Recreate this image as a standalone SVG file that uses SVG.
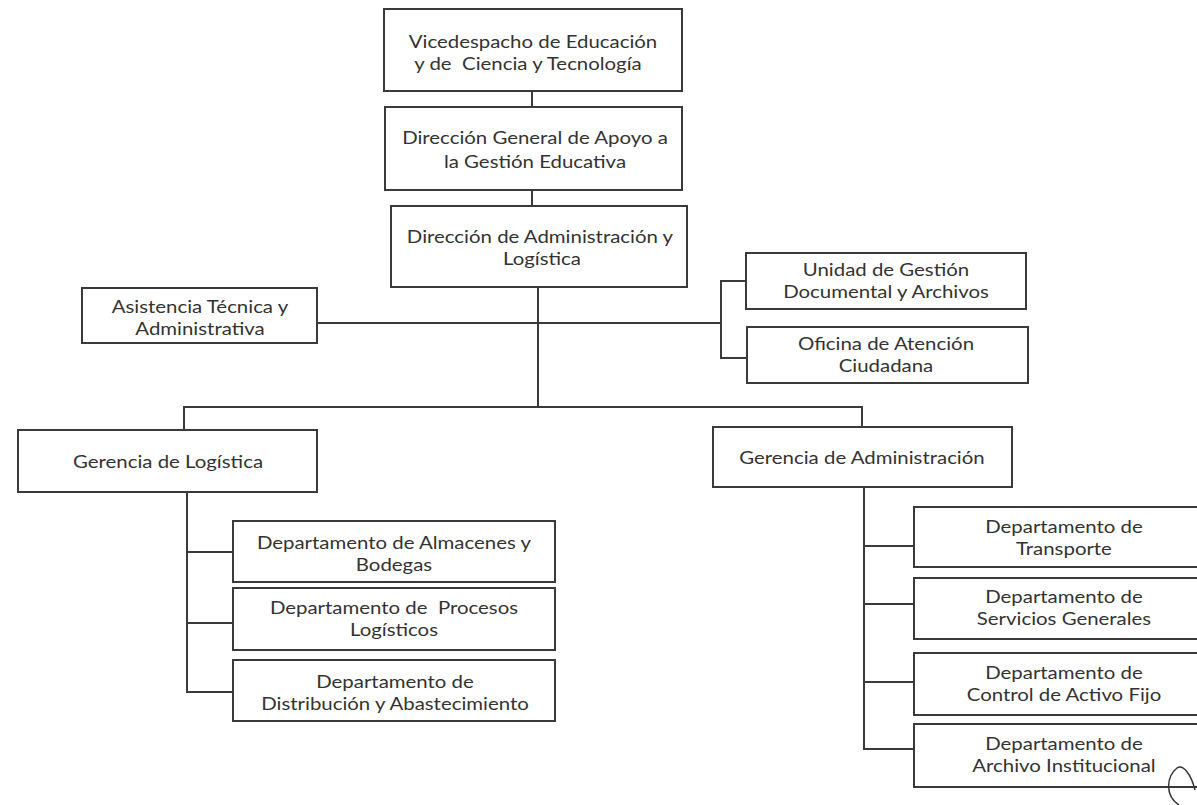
<svg xmlns="http://www.w3.org/2000/svg" width="1197" height="805" viewBox="0 0 1197 805">
<style>
.box{fill:#ffffff;stroke:#3a3a3a;stroke-width:2}
.lbl{font-family:Lato,"Open Sans","Liberation Sans",sans-serif;font-size:17px;fill:#333333;text-anchor:middle;white-space:pre;transform-box:fill-box;transform-origin:center;transform:scaleX(1.2)}
.conn{fill:none;stroke:#3a3a3a;stroke-width:2}
</style>
<rect x="0" y="0" width="1197" height="805" fill="#ffffff"/>
<g id="connectors" class="conn">
<path d="M532 91V107"/>
<path d="M532 190V206"/>
<path d="M538 287V407"/>
<path d="M317 323H721"/>
<path d="M746 281H721V358H747"/>
<path d="M184 430V407H862V427"/>
<path d="M187 492V692H233"/>
<path d="M187 552H233"/>
<path d="M187 623H233"/>
<path d="M864 487V749H914"/>
<path d="M864 546H914"/>
<path d="M864 604H914"/>
<path d="M864 682H914"/>
</g>
<g id="n-vicedespacho">
<rect class="box" x="384" y="9" width="298" height="82"/>
<text class="lbl" x="533" y="48">Vicedespacho de Educación</text>
<text class="lbl" x="528" y="70">y de  Ciencia y Tecnología</text>
</g>
<g id="n-direccion-general">
<rect class="box" x="385" y="107" width="297" height="83"/>
<text class="lbl" x="535" y="144">Dirección General de Apoyo a</text>
<text class="lbl" x="535" y="168">la Gestión Educativa</text>
</g>
<g id="n-direccion-admin">
<rect class="box" x="391" y="206" width="296" height="81"/>
<text class="lbl" x="540" y="243">Dirección de Administración y</text>
<text class="lbl" x="542" y="265">Logística</text>
</g>
<g id="n-asistencia">
<rect class="box" x="82" y="288" width="235" height="55"/>
<text class="lbl" x="200" y="313">Asistencia Técnica y</text>
<text class="lbl" x="200" y="335">Administrativa</text>
</g>
<g id="n-unidad">
<rect class="box" x="746" y="253" width="280" height="56"/>
<text class="lbl" x="886" y="276">Unidad de Gestión</text>
<text class="lbl" x="886" y="298">Documental y Archivos</text>
</g>
<g id="n-oficina">
<rect class="box" x="747" y="327" width="281" height="56"/>
<text class="lbl" x="886" y="350">Oficina de Atención</text>
<text class="lbl" x="886" y="372">Ciudadana</text>
</g>
<g id="n-gerencia-logistica">
<rect class="box" x="18" y="430" width="299" height="62"/>
<text class="lbl" x="168" y="468">Gerencia de Logística</text>
</g>
<g id="n-gerencia-admin">
<rect class="box" x="713" y="427" width="299" height="60"/>
<text class="lbl" x="862" y="464">Gerencia de Administración</text>
</g>
<g id="n-almacenes">
<rect class="box" x="233" y="521" width="322" height="61"/>
<text class="lbl" x="394" y="549">Departamento de Almacenes y</text>
<text class="lbl" x="394" y="571">Bodegas</text>
</g>
<g id="n-procesos">
<rect class="box" x="233" y="588" width="322" height="62"/>
<text class="lbl" x="394" y="614">Departamento de  Procesos</text>
<text class="lbl" x="394" y="636">Logísticos</text>
</g>
<g id="n-distribucion">
<rect class="box" x="233" y="660" width="322" height="61"/>
<text class="lbl" x="395" y="688">Departamento de</text>
<text class="lbl" x="395" y="710">Distribución y Abastecimiento</text>
</g>
<g id="n-transporte">
<rect class="box" x="914" y="507" width="300" height="60"/>
<text class="lbl" x="1064" y="533">Departamento de</text>
<text class="lbl" x="1064" y="555">Transporte</text>
</g>
<g id="n-servicios">
<rect class="box" x="914" y="578" width="300" height="61"/>
<text class="lbl" x="1064" y="603">Departamento de</text>
<text class="lbl" x="1064" y="625">Servicios Generales</text>
</g>
<g id="n-control">
<rect class="box" x="914" y="653" width="300" height="62"/>
<text class="lbl" x="1064" y="679">Departamento de</text>
<text class="lbl" x="1064" y="701">Control de Activo Fijo</text>
</g>
<g id="n-archivo">
<rect class="box" x="914" y="724" width="300" height="63"/>
<text class="lbl" x="1064" y="750">Departamento de</text>
<text class="lbl" x="1064" y="772">Archivo Institucional</text>
</g>
<path d="M1195 790C1191 774 1183 764 1177 768C1167 776 1164 795 1179 805" fill="none" stroke="#333333" stroke-width="1.5"/>
</svg>
